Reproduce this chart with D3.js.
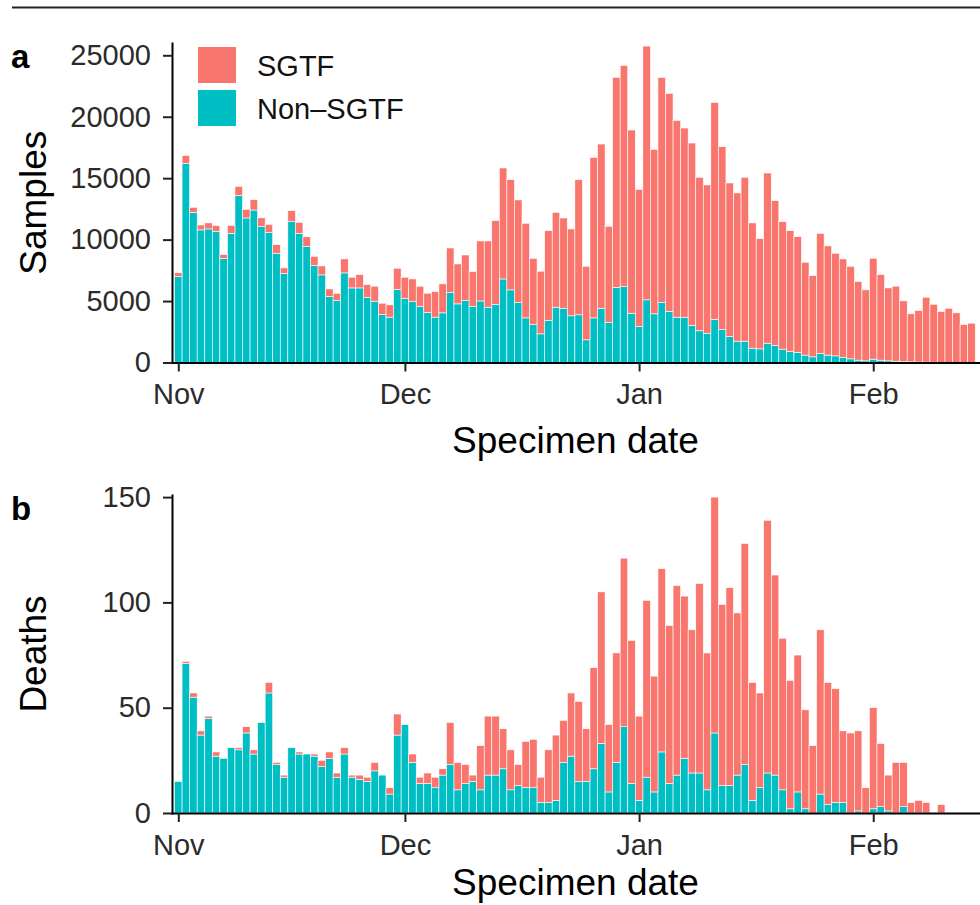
<!DOCTYPE html>
<html>
<head>
<meta charset="utf-8">
<script src="https://cdn.jsdelivr.net/npm/d3@7"></script>
<style>
  body { margin: 0; background: #fff; }
  svg { display: block; font-family: "Liberation Sans", Arial, Helvetica, sans-serif; }
</style>
</head>
<body>
<svg id="chart" width="980" height="905"></svg>
<script>
// ---- data ----
var startDay = "2020-11-01";            // first specimen date, one bar per day
var seriesKeys = ["nonSgtf", "sgtf"];   // stacking order, bottom first
var seriesNames = { sgtf: "SGTF", nonSgtf: "Non\u2013SGTF" };
var tickDates = ["2020-11-01", "2020-12-01", "2021-01-01", "2021-02-01"];
var tickLabels = ["Nov", "Dec", "Jan", "Feb"];
var samplesTicks = [0, 5000, 10000, 15000, 20000, 25000];
var deathsTicks = [0, 50, 100, 150];

// panel a: samples
var samplesSgtf = [300, 650, 410, 400, 490, 460, 325, 650, 750, 710,
  840, 710, 670, 700, 440, 900, 890, 800, 750, 730,
  620, 590, 1140, 870, 1080, 1030, 1220, 925, 1000, 1740,
  1710, 1840, 1660, 1575, 2080, 2360, 3630, 3250, 3710, 2850,
  4880, 5390, 6820, 9030, 8970, 8350, 7700, 5390, 5100, 7320,
  7720, 7370, 7070, 11000, 5985, 13060, 13365, 7830, 17080, 17990,
  14910, 11160, 20650, 13380, 18320, 17730, 16015, 15395, 14830, 12490,
  12070, 17640, 14880, 12500, 12065, 13335, 10195, 8970, 13850, 11790,
  10375, 9835, 9425, 7560, 6610, 9780, 8890, 8350, 8030, 7530,
  6395, 5775, 8210, 6960, 5935, 6100, 4935, 3905, 4190, 5280,
  4715, 4130, 4400, 4030, 3080, 3195];
var samplesNon = [7000, 16200, 12220, 10790, 10870, 10680, 8480, 10510, 13580, 11760,
  12410, 11060, 10570, 8890, 7260, 11460, 10510, 9430, 7890, 7130,
  5370, 5040, 7290, 6070, 6070, 5310, 4990, 3900, 3690, 5930,
  5230, 4960, 4550, 4065, 3690, 4040, 5690, 4770, 5040, 4550,
  5010, 4500, 4720, 6800, 5910, 4880, 3630, 3090, 2330, 3410,
  4500, 4390, 3800, 3880, 1845, 3630, 4415, 3250, 6120, 6180,
  4010, 2930, 5100, 3960, 4880, 4170, 3685, 3685, 3030, 2580,
  2380, 3520, 2680, 2110, 1735, 1735, 1165, 1110, 1570, 1380,
  1085, 895, 815, 600, 460, 730, 600, 540, 400, 300,
  190, 135, 270, 190, 135, 110, 80, 55, 40, 30,
  25, 20, 15, 10, 10, 5];

// panel b: deaths
var deathsSgtf = [0, 1, 2, 2, 1, 2, 0, 0, 1, 3,
  2, 0, 5, 1, 1, 0, 1, 0, 1, 3,
  3, 2, 3, 1, 2, 2, 4, 0, 3, 10,
  0, 4, 3, 5, 5, 3, 20, 13, 9, 3,
  21, 28, 28, 19, 19, 10, 22, 23, 12, 25,
  31, 20, 30, 38, 25, 48, 72, 32, 52, 80,
  68, 40, 84, 55, 87, 75, 90, 77, 68, 90,
  65, 112, 86, 94, 77, 105, 56, 45, 120, 95,
  72, 61, 65, 47, 32, 78, 58, 54, 34, 38,
  38, 12, 48, 30, 17, 24, 21, 5, 6, 5,
  0, 4, 0, 0, 0, 0];
var deathsNon = [15, 71, 55, 37, 45, 27, 26, 31, 30, 38,
  28, 43, 57, 23, 17, 31, 28, 28, 27, 22,
  26, 17, 28, 17, 16, 15, 20, 18, 9, 37,
  42, 24, 14, 14, 12, 18, 23, 11, 14, 15,
  11, 18, 18, 21, 11, 13, 12, 12, 5, 5,
  6, 24, 27, 15, 15, 21, 33, 10, 24, 41,
  14, 6, 17, 10, 29, 14, 18, 26, 19, 19,
  11, 38, 13, 13, 18, 23, 6, 12, 19, 18,
  11, 2, 10, 2, 0, 9, 4, 5, 5, 0,
  1, 0, 2, 3, 1, 0, 3, 0, 0, 0,
  0, 0, 0, 0, 0, 0];

var colors = { sgtf: "#F8766D", nonSgtf: "#00BFC4" };

var svg = d3.select("#chart");
var parse = d3.utcParse("%Y-%m-%d");
var day0 = parse(startDay);
var days = d3.utcDay.range(day0, d3.utcDay.offset(day0, samplesSgtf.length));

// shared date scale (plot runs from the y axis to the right edge)
var x = d3.scaleUtc()
  .domain([d3.utcHour.offset(days[0], -20), d3.utcHour.offset(days[days.length - 1], 24)])
  .range([172, 979]);
var bw = x(days[1]) - x(days[0]);

// thin rule across the top
svg.append("line")
  .attr("x1", 12).attr("x2", 980).attr("y1", 7.5).attr("y2", 7.5)
  .attr("stroke", "#222").attr("stroke-width", 2);

function styleAxis(sel) {
  sel.select(".domain").attr("stroke", "#000").attr("stroke-width", 2).attr("stroke-linecap", "square");
  sel.selectAll(".tick line").attr("stroke", "#222").attr("stroke-width", 2);
  sel.selectAll(".tick text").attr("fill", "#2b2b2b").style("font-size", "29px")
    .style("font-family", "'Liberation Sans', Arial, sans-serif");
}

function drawPanel(p) {
  var y = d3.scaleLinear().domain([0, p.yMax]).range([p.bottom, p.top]);
  var rows = days.map(function (d, i) {
    return { date: d, sgtf: p.sgtf[i], nonSgtf: p.non[i] };
  });
  var stacked = d3.stack().keys(seriesKeys)(rows);

  var g = svg.append("g");

  g.selectAll("g.layer")
    .data(stacked)
    .join("g")
      .attr("class", "layer")
      .attr("fill", function (d) { return colors[d.key]; })
    .selectAll("rect")
    .data(function (d) { return d.filter(function (v) { return v[1] > v[0]; }); })
    .join("rect")
      .attr("x", function (d) { return x(d.data.date) - bw / 2; })
      .attr("width", bw)
      .attr("y", function (d) { return y(d[1]); })
      .attr("height", function (d) { return y(d[0]) - y(d[1]); })
      .attr("stroke", "#fff")
      .attr("stroke-width", 0.6);

  // axes
  var ya = g.append("g")
    .attr("transform", "translate(172,0)")
    .call(d3.axisLeft(y).tickValues(p.yTicks).tickFormat(d3.format("d"))
      .tickSize(9).tickPadding(12).tickSizeOuter(0));
  styleAxis(ya);

  var xa = g.append("g")
    .attr("transform", "translate(0," + p.bottom + ")")
    .call(d3.axisBottom(x)
      .tickValues(tickDates.map(parse))
      .tickFormat(function (d, i) { return tickLabels[i]; })
      .tickSize(9).tickPadding(12).tickSizeOuter(0));
  styleAxis(xa);

  // titles
  g.append("text")
    .attr("transform", "translate(46," + ((p.top + p.bottom) / 2) + ") rotate(-90)")
    .attr("text-anchor", "middle")
    .style("font-size", "37px")
    .text(p.yTitle);

  g.append("text")
    .attr("x", (172 + 979) / 2)
    .attr("y", p.bottom + p.titleGap)
    .attr("text-anchor", "middle")
    .style("font-size", "37px")
    .text("Specimen date");

  g.append("text")
    .attr("x", 11)
    .attr("y", p.top + 25)
    .style("font-size", "33px")
    .style("font-weight", "bold")
    .text(p.label);
}

drawPanel({ sgtf: samplesSgtf, non: samplesNon, yMax: 26000, yTicks: samplesTicks,
  top: 43, bottom: 362.5, titleGap: 90, yTitle: "Samples", label: "a" });
drawPanel({ sgtf: deathsSgtf, non: deathsNon, yMax: 151, yTicks: deathsTicks,
  top: 495, bottom: 813, titleGap: 82, yTitle: "Deaths", label: "b" });

// legend (panel a, top left inside plot)
var legendKeys = ["sgtf", "nonSgtf"];
var lg = svg.append("g").attr("transform", "translate(198,47)");
var li = lg.selectAll("g").data(legendKeys).join("g")
  .attr("transform", function (d, i) { return "translate(0," + (i * 43) + ")"; });
li.append("rect").attr("width", 38).attr("height", 36)
  .attr("fill", function (d) { return colors[d]; });
li.append("text").attr("x", 59).attr("y", 29)
  .style("font-size", "29px").attr("fill", "#111")
  .text(function (d) { return seriesNames[d]; });
</script>
</body>
</html>
